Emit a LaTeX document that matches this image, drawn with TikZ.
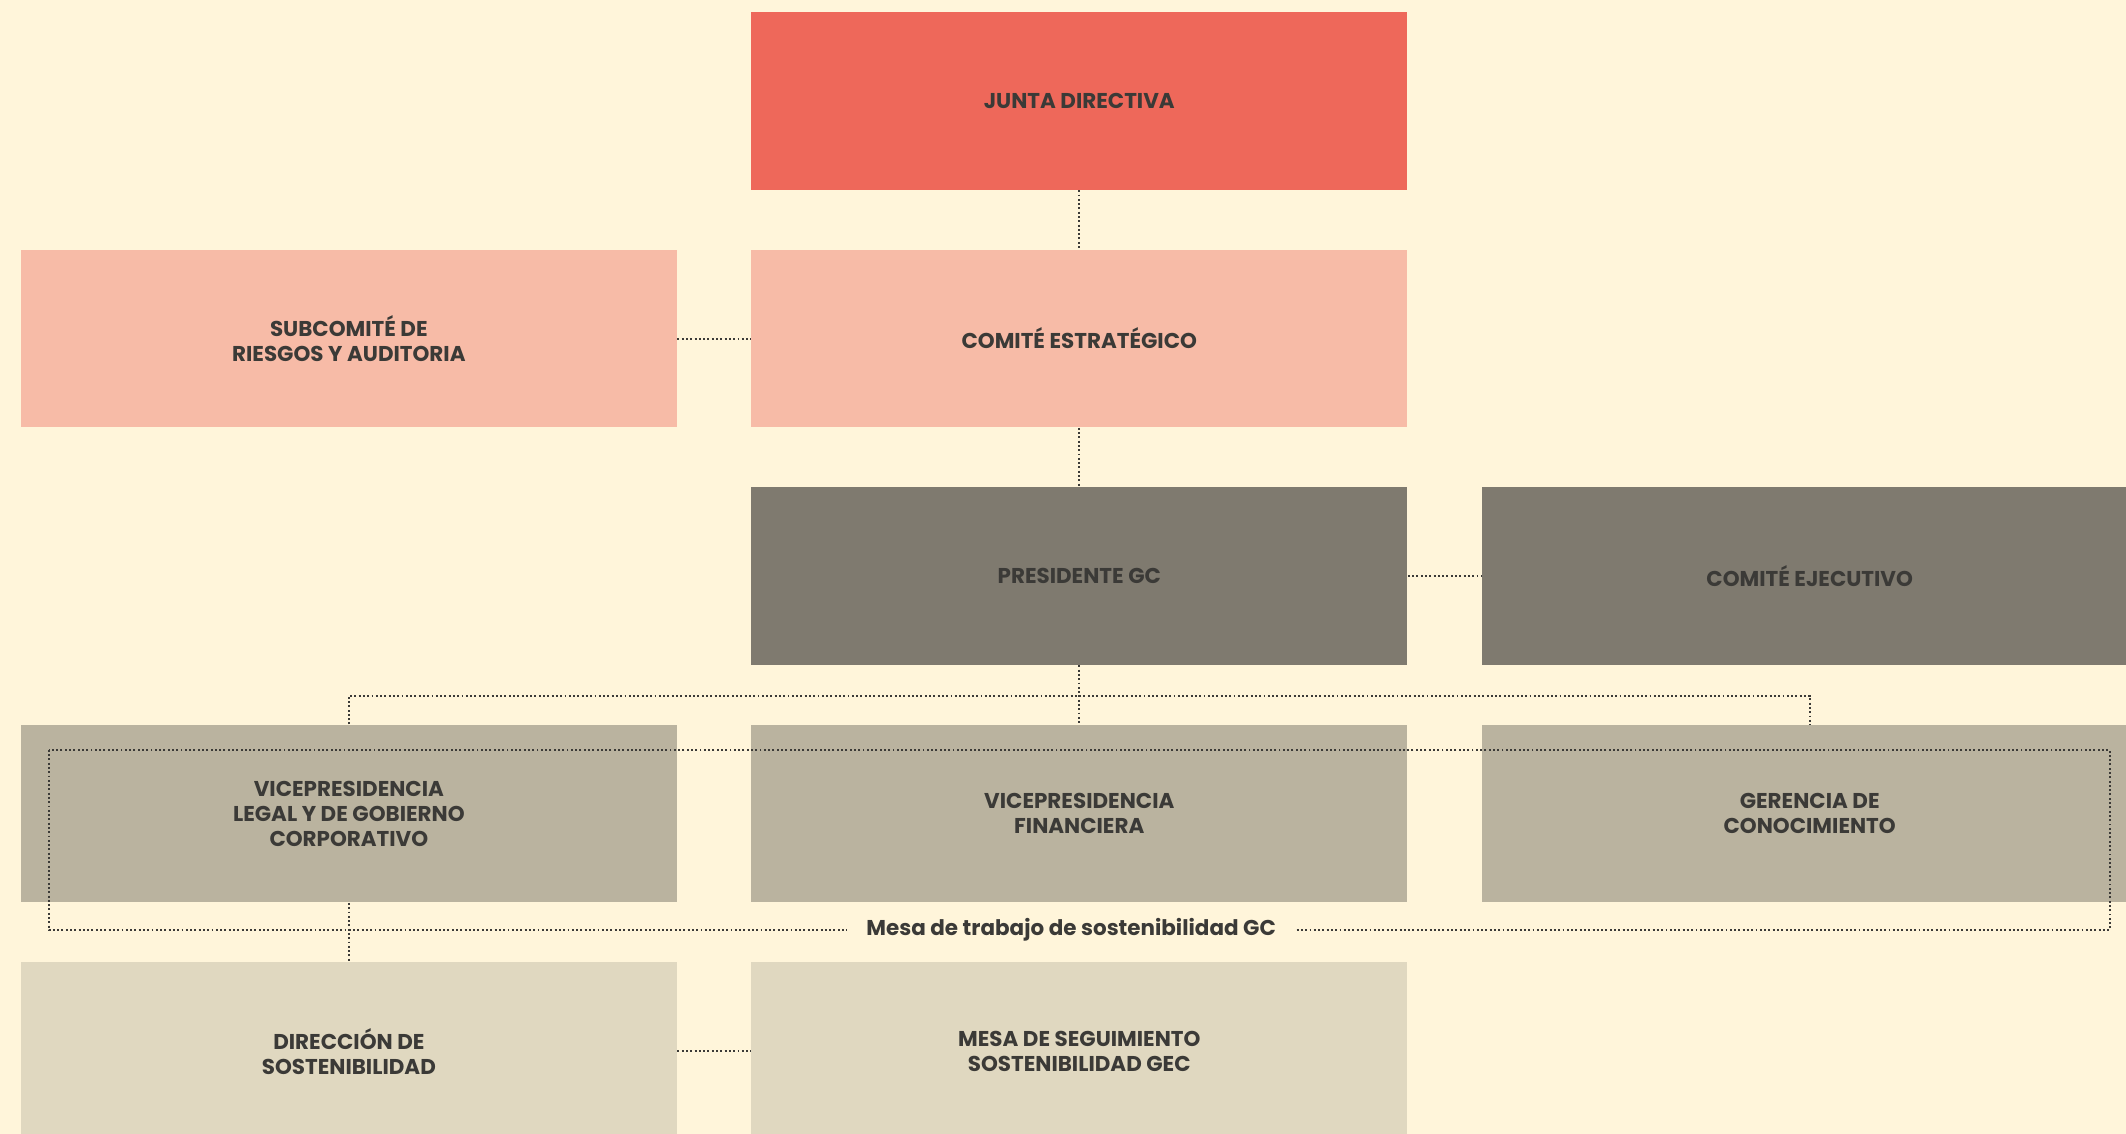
\documentclass[tikz,border=0pt]{standalone}
\usepackage{fontspec}
\setmainfont{Poppins}
\usepackage{tikz}
\usepackage{xcolor}
\usetikzlibrary{positioning}

\definecolor{cream}{HTML}{FFF5DA}
\definecolor{juntared}{HTML}{EE685A}
\definecolor{comitepink}{HTML}{F7BBA7}
\definecolor{presgray}{HTML}{7F7A6F}
\definecolor{vpbeige}{HTML}{BAB39F}
\definecolor{dirbeige}{HTML}{E0D8C0}
\definecolor{inkgray}{HTML}{3B3A37}

\begin{document}
\begin{tikzpicture}[
            node distance=0.87cm and 1.08cm,
            orgbox/.style={rectangle, minimum width=9.68cm, minimum height=2.62cm, inner sep=0pt,
                align=center, text=inkgray, font=\fontsize{9}{10.5}\selectfont\bfseries},
            link/.style={draw=inkgray, line width=0.8pt, densely dotted},
        ]
            \useasboundingbox (0,0) rectangle (31.36,-16.72);
            \fill[cream] (0,0) rectangle (31.36,-16.72);

            \node[orgbox, fill=juntared] (junta) at (15.92,-1.49) {JUNTA DIRECTIVA};
            \node[orgbox, fill=comitepink, below=of junta] (estrategico) {COMITÉ ESTRATÉGICO};
            \node[orgbox, fill=comitepink, left=of estrategico] (subcomite) {SUBCOMITÉ DE\\RIESGOS Y AUDITORIA};
            \node[orgbox, fill=presgray, below=of estrategico] (presidente) {PRESIDENTE GC};
            \node[orgbox, fill=presgray, right=of presidente] (ejecutivo) {COMITÉ EJECUTIVO};
            \node[orgbox, fill=vpbeige, below=of presidente] (vpfin) {VICEPRESIDENCIA\\FINANCIERA};
            \node[orgbox, fill=vpbeige, left=of vpfin] (vplegal) {VICEPRESIDENCIA\\LEGAL Y DE GOBIERNO\\CORPORATIVO};
            \node[orgbox, fill=vpbeige, right=of vpfin] (gerencia) {GERENCIA DE\\CONOCIMIENTO};
            \node[orgbox, fill=dirbeige, below=of vplegal] (direccion) {DIRECCIÓN DE\\SOSTENIBILIDAD};
            \node[orgbox, fill=dirbeige, below=of vpfin] (seguimiento) {MESA DE SEGUIMIENTO\\SOSTENIBILIDAD GEC};

            \coordinate (bus) at (0,-10.26);
            \coordinate (mesaNW) at (0.72,-11.06);
            \coordinate (mesaSE) at (31.12,-13.72);

            \draw[link] (junta) -- (estrategico);
            \draw[link] (subcomite) -- (estrategico);
            \draw[link] (estrategico) -- (presidente);
            \draw[link] (presidente) -- (ejecutivo);
            \draw[link] (presidente) -- (vpfin);
            \draw[link] (vplegal.north) -- (vplegal.north |- bus) -- (gerencia.north |- bus) -- (gerencia.north);
            \draw[link] (vplegal) -- (direccion);
            \draw[link] (direccion) -- (seguimiento);
            \draw[link] (mesaNW) rectangle (mesaSE);

            \node[fill=cream, text=inkgray, inner xsep=8pt, font=\fontsize{9}{11}\selectfont\bfseries]
                (mesa) at (15.8,-13.72) {Mesa de trabajo de sostenibilidad GC};
        \end{tikzpicture}
\end{document}
